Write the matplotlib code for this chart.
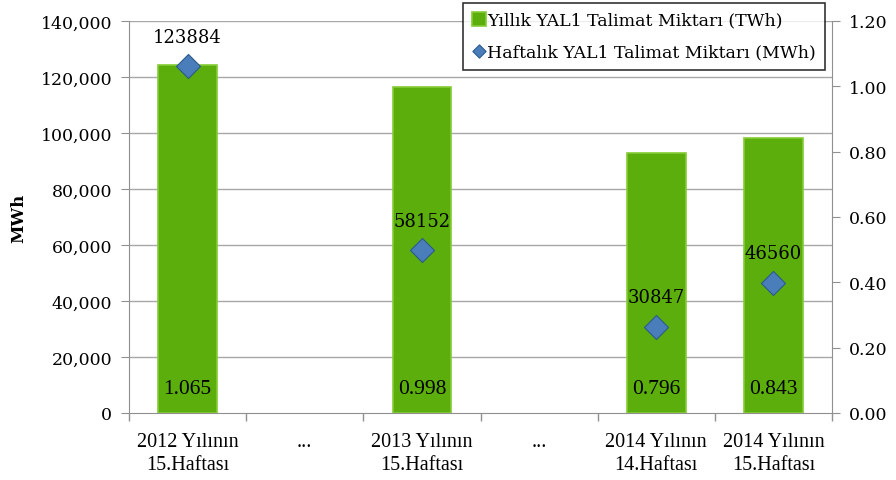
import matplotlib.pyplot as plt
import numpy as np
from matplotlib.ticker import FuncFormatter, MultipleLocator

plt.rcParams['font.family'] = ['DejaVu Serif']

categories = ['2012 Yılının\n15.Haftası', '...', '2013 Yılının\n15.Haftası', '...',
              '2014 Yılının\n14.Haftası', '2014 Yılının\n15.Haftası']
bar_idx = [0, 2, 4, 5]
yearly_twh = [1.065, 0.998, 0.796, 0.843]
weekly_mwh = [123884, 58152, 30847, 46560]

fig = plt.figure(figsize=(8.96, 4.81), dpi=100)
ax = fig.add_axes([129/896, 1-414/481, (832-129)/896, (414-22)/481])
ax2 = ax.twinx()

x = np.arange(len(categories))

# bars on the right axis (TWh)
bars = ax2.bar(bar_idx, yearly_twh, width=0.5, color='#5BAE0C', edgecolor='#86CC35',
               linewidth=1.2, zorder=2, label='Yıllık YAL1 Talimat Miktarı (TWh)')
for i, v in zip(bar_idx, yearly_twh):
    ax2.text(i, 0.075, '%.3f' % v, ha='center', va='center', fontsize=15.5,
             family='Liberation Serif', zorder=5)

# diamonds on the left axis (MWh)
ax.set_zorder(ax2.get_zorder() + 1)
ax.patch.set_visible(False)
pts = ax.scatter(bar_idx, weekly_mwh, marker='D', s=150, color='#4A7EBB',
                 edgecolor='#2C5A8C', linewidth=0.8, zorder=4,
                 label='Haftalık YAL1 Talimat Miktarı (MWh)')
for i, v in zip(bar_idx, weekly_mwh):
    ax.text(i, v + 10500, str(v), ha='center', va='center', fontsize=13, zorder=5)

ax.set_xlim(-0.5, len(categories) - 0.5)
ax.set_ylim(0, 140000)
ax2.set_ylim(0, 1.2)
ax.yaxis.set_major_locator(MultipleLocator(20000))
ax.yaxis.set_major_formatter(FuncFormatter(lambda v, p: '0' if v == 0 else '{:,.0f}'.format(v)))
ax2.yaxis.set_major_locator(MultipleLocator(0.2))
ax2.yaxis.set_major_formatter(FuncFormatter(lambda v, p: '%.2f' % v))

for y in np.arange(20000, 140001, 20000):
    ax2.axhline(y / 140000 * 1.2, color='#A8A8A8', linewidth=1.0, zorder=0)

ax.set_xticks(x)
ax.set_xticklabels(categories, fontsize=14.5, family='Liberation Serif', linespacing=1.25)
ax.tick_params(axis='x', length=0, pad=14)
ax.set_xticks(np.arange(-0.5, len(categories), 1), minor=True)
ax.tick_params(axis='x', which='minor', length=6, color='#909090', width=1)
ax.tick_params(axis='y', labelsize=12.5, length=6, color='#909090', pad=6)
ax2.tick_params(axis='y', labelsize=12.5, length=6, color='#909090', pad=6)

for a in (ax, ax2):
    for s in a.spines.values():
        s.set_visible(False)
ax.spines['left'].set_visible(True)
ax.spines['left'].set_color('#909090')
ax.spines['bottom'].set_visible(True)
ax.spines['bottom'].set_color('#909090')
ax2.spines['right'].set_visible(True)
ax2.spines['right'].set_color('#909090')

ax.set_ylabel('MWh', fontsize=12, fontweight='bold', labelpad=10)

leg = fig.legend(handles=[bars, pts], loc='upper left', bbox_to_anchor=(463/896, 1-4/481),
                 fontsize=12.5, frameon=True, fancybox=False, edgecolor='black',
                 handlelength=0.8, handleheight=0.9, handletextpad=0.1, borderpad=0.5,
                 labelspacing=0.85, borderaxespad=0, markerscale=0.55)
leg.get_frame().set_linewidth(1.2)

fig.savefig('out.png', dpi=100)
